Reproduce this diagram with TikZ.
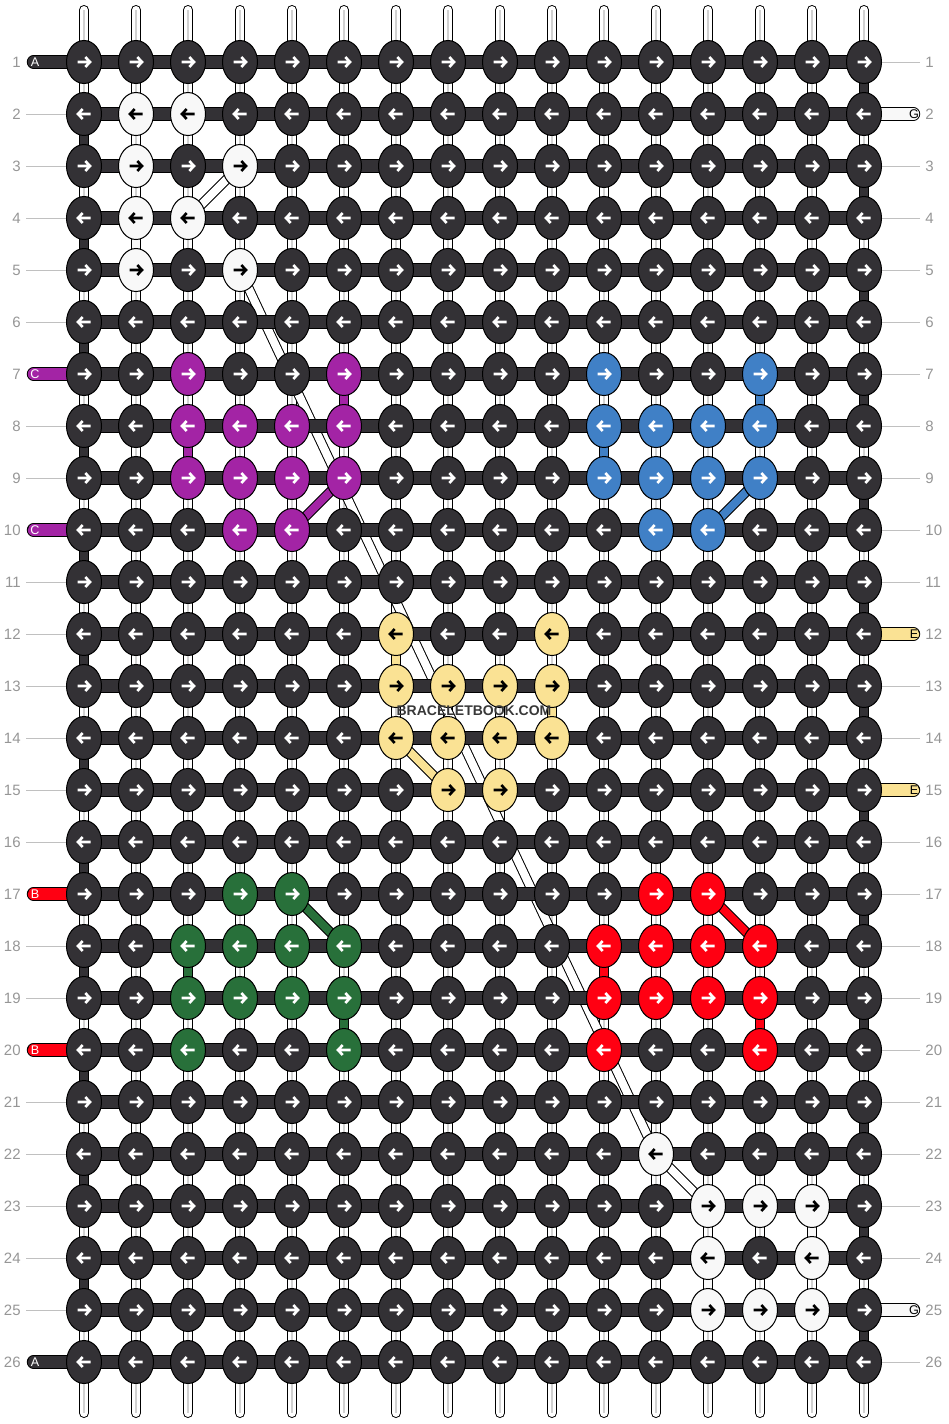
\documentclass[tikz,border=0pt]{standalone}
\usepackage{fontspec}
\setmainfont{Liberation Sans}
\usetikzlibrary{shapes.geometric}

\definecolor{knotdark}{RGB}{51,49,53}
\definecolor{knotwhite}{RGB}{248,248,248}
\definecolor{knotpurple}{RGB}{163,36,165}
\definecolor{knotblue}{RGB}{64,128,198}
\definecolor{knotyellow}{RGB}{250,226,148}
\definecolor{knotgreen}{RGB}{40,112,58}
\definecolor{knotred}{RGB}{255,0,18}
\definecolor{rowgray}{RGB}{150,150,150}

\pgfdeclarelayer{strands}
\pgfdeclarelayer{joins}
\pgfdeclarelayer{rows}
\pgfsetlayers{strands,joins,rows,main}

% knot colours: fill, arrow pen, list of row-column
\newcommand\setknots[3]{%
  \foreach \rc in {#3}{%
    \expandafter\xdef\csname kf-\rc\endcsname{#1}%
    \expandafter\xdef\csname kp-\rc\endcsname{#2}}}

\setknots{knotwhite}{black}{2-2,2-3,3-2,3-4,4-2,4-3,5-2,5-4,22-12,23-13,23-14,23-15,24-13,24-15,25-13,25-14,25-15}
\setknots{knotpurple}{white}{7-3,7-6,8-3,8-4,8-5,8-6,9-3,9-4,9-5,9-6,10-4,10-5}
\setknots{knotblue}{white}{7-11,7-14,8-11,8-12,8-13,8-14,9-11,9-12,9-13,9-14,10-12,10-13}
\setknots{knotyellow}{black}{12-7,12-10,13-7,13-8,13-9,13-10,14-7,14-8,14-9,14-10,15-8,15-9}
\setknots{knotgreen}{white}{17-4,17-5,18-3,18-4,18-5,18-6,19-3,19-4,19-5,19-6,20-3,20-6}
\setknots{knotred}{white}{17-12,17-13,18-11,18-12,18-13,18-14,19-11,19-12,19-13,19-14,20-11,20-14}

\tikzset{
  knot/.style={ellipse, draw=black, line width=.5pt, minimum width=17.5pt,
               minimum height=21.5pt, inner sep=0pt},
  pen/.style={line width=1.3pt},
  strand/.style={draw=black, double=white, double distance=4pt, line width=.5pt},
  strandcore/.style={draw=black!18, line width=.9pt},
  joint/.style={draw=black, double=#1, double distance=4pt, line width=.5pt},
  rowline/.style={draw=black, double=knotdark, double distance=5.7pt, line width=.5pt},
  tail/.style={draw=black, double=#1, double distance=5.7pt, line width=.5pt, line cap=round},
  tick/.style={draw=rowgray!60, line width=.5pt},
  rownum/.style={text=rowgray, font=\fontsize{7.5}{8}\selectfont, inner sep=0pt},
  tag/.style={font=\fontsize{6.3}{7}\selectfont, inner sep=0pt}
}

\begin{document}
\begin{tikzpicture}[x=0.5pt, y=-0.5pt]
\useasboundingbox (0,0) rectangle (948,1424);

% knots and their arrows
\foreach \r in {1,...,26}{
  \foreach \c in {1,...,16}{
    \pgfmathtruncatemacro\x{32+52*\c}
    \pgfmathtruncatemacro\y{10+52*\r}
    \ifcsname kf-\r-\c\endcsname
      \edef\kfill{\csname kf-\r-\c\endcsname}\edef\kpen{\csname kp-\r-\c\endcsname}
    \else
      \def\kfill{knotdark}\def\kpen{white}
    \fi
    \ifodd\r\relax \def\dir{1}\else \def\dir{-1}\fi
    \node[knot, fill=\kfill] (k-\r-\c) at (\x,\y) {};
    \draw[pen, draw=\kpen, shift={(k-\r-\c.center)}, xscale=\dir]
      (-6.5,0) -- (6,0) (1.3,-5) -- (6,0) -- (1.3,5);
  }
}
\foreach \c in {1,...,16}{
  \coordinate (top-\c) at ({32+52*\c},10);
  \coordinate (bot-\c) at ({32+52*\c},1413);
}

% vertical strands and the white strand that crosses
\begin{pgfonlayer}{strands}
  \foreach \c in {1,...,16}{
    \draw[strand, line cap=round] (top-\c) -- (bot-\c);
    \draw[strandcore] (top-\c) -- (bot-\c);
  }
  \foreach \a/\b in {3-4/4-3, 5-4/22-12, 22-12/23-13}
    \draw[strand] (k-\a.center) -- (k-\b.center);
\end{pgfonlayer}

% turns between rows
\begin{pgfonlayer}{joins}
  \foreach \r in {2,4,...,24}{
    \pgfmathtruncatemacro\rr{\r+1}
    \draw[joint=knotdark] (k-\r-1.center) -- (k-\rr-1.center);
  }
  \foreach \r in {1,3,...,25}{
    \pgfmathtruncatemacro\rr{\r+1}
    \draw[joint=knotdark] (k-\r-16.center) -- (k-\rr-16.center);
  }
  \foreach \c/\r/\col in {6/7/knotpurple, 3/8/knotpurple, 14/7/knotblue, 11/8/knotblue,
      7/12/knotyellow, 10/13/knotyellow, 3/18/knotgreen, 6/19/knotgreen,
      11/18/knotred, 14/19/knotred, 2/4/knotwhite, 15/23/knotwhite, 13/24/knotwhite}{
    \pgfmathtruncatemacro\rr{\r+1}
    \draw[joint=\col] (k-\r-\c.center) -- (k-\rr-\c.center);
  }
\end{pgfonlayer}

% rows, diagonal carries and loose ends
\begin{pgfonlayer}{rows}
  \foreach \r in {1,...,26}
    \draw[rowline] (k-\r-1.center) -- (k-\r-16.center);
  \foreach \a/\b/\col in {9-6/10-5/knotpurple, 9-14/10-13/knotblue, 14-7/15-8/knotyellow,
      17-5/18-6/knotgreen, 17-13/18-14/knotred}
    \draw[joint=\col] (k-\a.center) -- (k-\b.center);
  \foreach \r/\col in {1/knotdark, 7/knotpurple, 10/knotpurple,
      17/knotred, 20/knotred, 26/knotdark}{
    \coordinate (tl-\r) at (33.5,{10+52*\r});
    \draw[tail=\col] (tl-\r) -- (k-\r-1.center);
  }
  \foreach \r/\col in {2/knotwhite, 12/knotyellow, 15/knotyellow, 25/knotwhite}{
    \coordinate (tr-\r) at (913.5,{10+52*\r});
    \draw[tail=\col] (k-\r-16.center) -- (tr-\r);
  }
\end{pgfonlayer}

% tail letters
\foreach \r/\txt in {1/A, 7/C, 10/C, 17/B, 20/B, 26/A}
  \node[tag, text=white] (tt-\r) at (35,{10+52*\r}) {\txt};
\foreach \r/\txt in {2/G, 12/E, 15/E, 25/G}
  \node[tag, text=black] (tt-\r) at (914,{10+52*\r}) {\txt};

% row numbers
\foreach \r in {1,...,26}{
  \node[rownum, anchor=east] (nl-\r) at (21,{10+52*\r}) {\r};
  \node[rownum, anchor=west] (nr-\r) at (925,{10+52*\r}) {\r};
}
\foreach \r in {2,3,4,5,6,8,9,11,12,13,14,15,16,18,19,21,22,23,24,25}
  \draw[tick] (nl-\r.east) ++(5,0) -- (k-\r-1.west);
\foreach \r in {1,3,4,5,6,7,8,9,10,11,13,14,16,17,18,19,20,21,22,23,24,26}
  \draw[tick] (nr-\r.west) ++(-5,0) -- (k-\r-16.east);

\node[font=\bfseries\fontsize{7}{8}\selectfont, text=black!78, inner sep=0pt] (mark) at (474,711) {BRACELETBOOK.COM};
\end{tikzpicture}
\end{document}
